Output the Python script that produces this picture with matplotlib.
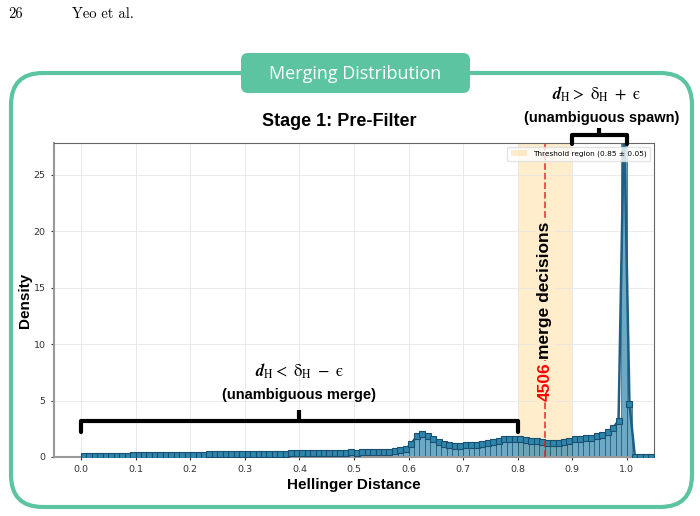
import numpy as np
import matplotlib
matplotlib.use("Agg")
import matplotlib.pyplot as plt
from matplotlib.patches import FancyBboxPatch

plt.rcParams['mathtext.fontset'] = 'stix'

# --- data: density per 0.01-wide bin of Hellinger distance, 0.00 .. 1.05 ---
bin_start = 0.0
bin_width = 0.01
density = [
    0.10, 0.11, 0.11, 0.12, 0.12, 0.12, 0.13, 0.13, 0.13, 0.14,
    0.14, 0.15, 0.15, 0.16, 0.16, 0.17, 0.17, 0.18, 0.18, 0.19,
    0.20, 0.21, 0.22, 0.23, 0.24, 0.25, 0.26, 0.27, 0.27, 0.28,
    0.28, 0.29, 0.29, 0.29, 0.30, 0.30, 0.30, 0.30, 0.31, 0.31,
    0.32, 0.32, 0.33, 0.33, 0.34, 0.35, 0.36, 0.37, 0.38, 0.40,
    0.38, 0.40, 0.42, 0.43, 0.45, 0.47, 0.47, 0.53, 0.59, 0.70,
    1.18, 1.83, 2.06, 1.89, 1.56, 1.33, 1.15, 1.05, 1.00, 1.00,
    1.02, 1.05, 1.08, 1.12, 1.20, 1.30, 1.42, 1.55, 1.60, 1.60,
    1.58, 1.53, 1.45, 1.38, 1.30, 1.27, 1.27, 1.28, 1.33, 1.42,
    1.55, 1.60, 1.65, 1.72, 1.82, 1.97, 2.20, 2.60, 3.20, 30.0,
    4.70, 0.00, 0.00, 0.00, 0.00,
]
threshold = 0.85
epsilon = 0.05
n_merge = 4506
x_ticks = [0.0, 0.1, 0.2, 0.3, 0.4, 0.5, 0.6, 0.7, 0.8, 0.9, 1.0]
y_ticks = [0, 5, 10, 15, 20, 25]

GREEN = '#5cc4a1'
BAR = '#2E86AB'
EDGE = '#1b4f72'

dens = np.array(density)
centers = bin_start + bin_width * (np.arange(len(dens)) + 0.5)

fig = plt.figure(figsize=(7.0, 5.16), dpi=100)

# --- frame / page decoration (pixel space overlay) ---
deco = fig.add_axes([0, 0, 1, 1], zorder=0)
deco.set_xlim(0, 700)
deco.set_ylim(516, 0)
deco.axis('off')
deco.add_patch(FancyBboxPatch((11, 73), 681, 434,
                              boxstyle="round,pad=0,rounding_size=32",
                              fc='none', ec=GREEN, lw=3))
deco.add_patch(FancyBboxPatch((241, 53), 229, 40,
                              boxstyle="round,pad=0,rounding_size=7",
                              fc=GREEN, ec='none'))
deco.text(355.5, 74, 'Merging Distribution', color='white', fontsize=13,
          family='Open Sans', ha='center', va='center')
deco.text(8, 14, '26', fontsize=10.5, family='cmr10', va='center')
deco.text(72, 14, 'Yeo et al.', fontsize=10.5, family='cmr10', va='center')
deco.text(339, 122, 'Stage 1: Pre-Filter', fontsize=13, fontweight='bold',
          family='Liberation Sans', ha='center', va='center')

# --- main chart ---
ax = fig.add_axes([54 / 700, 59 / 516, 600 / 700, 314 / 516], zorder=1)
ax.axvspan(threshold - epsilon, threshold + epsilon, color='orange', alpha=0.2,
           lw=0, label=f'Threshold region ({threshold} ± {epsilon})', zorder=0)
ax.bar(centers, dens, width=bin_width, color=BAR, alpha=0.7,
       edgecolor=EDGE, linewidth=0.6, zorder=2)
ax.plot(centers, dens, color='#1f5f85', lw=1.8, marker='s', ms=4.8,
        mfc=BAR, mec=EDGE, mew=0.8, zorder=3)
ax.axvline(threshold, color='#e02020', ls='--', lw=1.3, alpha=0.8, zorder=4)

ax.set_xlim(-0.05, 1.05)
ax.set_ylim(0, 27.8)
ax.set_xticks(x_ticks)
ax.set_yticks(y_ticks)
ax.tick_params(labelsize=6.8, colors='#333333', length=2.5)
ax.grid(True, color='#e6e6e6', lw=0.6, zorder=0)
ax.set_axisbelow(True)
for s in ax.spines.values():
    s.set_color('#666666')
    s.set_linewidth(0.8)
ax.spines['left'].set_color('#999999')
ax.spines['left'].set_linewidth(1.5)
ax.spines['bottom'].set_color('#999999')
ax.spines['bottom'].set_linewidth(1.5)

ax.set_xlabel('Hellinger Distance', fontsize=11, fontweight='bold',
              family='Liberation Sans', labelpad=3)
ax.set_ylabel('Density', fontsize=11, fontweight='bold',
              family='Liberation Sans', labelpad=1)

leg = ax.legend(loc='upper right', fontsize=5.3, frameon=True, fancybox=True,
                borderpad=0.5, handlelength=2.2)
leg.get_frame().set_edgecolor('#dddddd')

# vertical annotation on the threshold line
band_col = (1.0, 0.929, 0.8)
ax.text(threshold, 5.0, f'{n_merge}', rotation=90, color='red',
        fontsize=12.5, fontweight='bold', family='Liberation Sans',
        ha='center', va='bottom', zorder=5,
        bbox=dict(fc=band_col, ec='none', pad=1))
ax.text(threshold, 8.7, 'merge decisions', rotation=90, color='black',
        fontsize=12.5, fontweight='bold', family='Liberation Sans',
        ha='center', va='bottom', zorder=5,
        bbox=dict(fc=band_col, ec='none', pad=1))

# brackets
def bracket(x0, x1, y, drop, rise):
    xm = (x0 + x1) / 2
    ax.plot([x0, x0, x1, x1], [y - drop, y, y, y - drop], color='black',
            lw=3, solid_capstyle='round', solid_joinstyle='round',
            clip_on=False, zorder=6)
    ax.plot([xm, xm], [y, y + rise], color='black', lw=3,
            solid_capstyle='butt', clip_on=False, zorder=6)

bracket(0.0, 0.8, 3.2, 0.95, 1.0)
ax.text(0.4, 7.6, r'$\mathbfit{d}_{\mathrm{H}} <\ \mathrm{\delta}_{\mathrm{H}}\ -\ \mathrm{ϵ}$',
        fontsize=12, ha='center', va='center', zorder=6)
ax.text(0.4, 5.5, '(unambiguous merge)', fontsize=10.5, fontweight='bold',
        family='Liberation Sans', ha='center', va='center', zorder=6)

bracket(0.9, 1.0, 28.5, 0.8, 0.6)
ax.text(0.945, 32.1, r'$\mathbfit{d}_{\mathrm{H}} >\ \mathrm{\delta}_{\mathrm{H}}\ +\ \mathrm{ϵ}$',
        fontsize=12, ha='center', va='center', clip_on=False, zorder=6)
ax.text(0.955, 30.0, '(unambiguous spawn)', fontsize=10.5, fontweight='bold',
        family='Liberation Sans', ha='center', va='center', clip_on=False,
        zorder=6)

fig.savefig('out.png', dpi=100)
